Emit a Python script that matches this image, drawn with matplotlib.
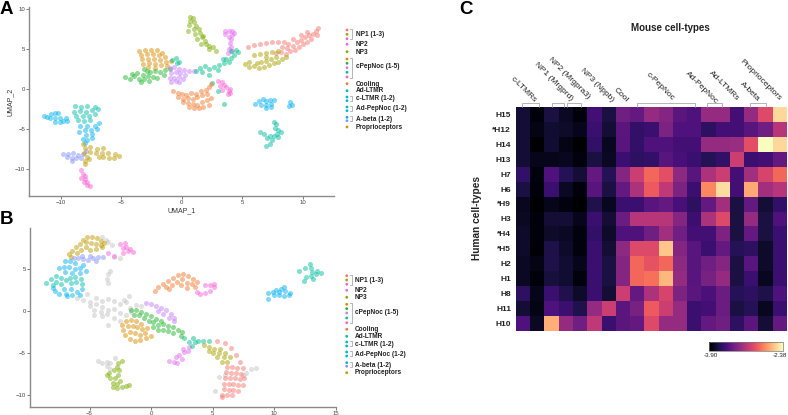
import numpy as np
import matplotlib
matplotlib.use("Agg")
import matplotlib.pyplot as plt

plt.rcParams['font.family'] = ['Liberation Sans', 'DejaVu Sans']

W, H = 788, 415

# cluster colours
c_np1a = '#F8766D'
c_np1b = '#ABA300'
c_np1c = '#FB61D7'
c_np2 = '#E76BF3'
c_np3 = '#7CAE00'
c_pep1 = '#DE8C00'
c_pep2 = '#1DB82B'
c_pep3 = '#C77CFF'
c_pep4 = '#00C08B'
c_pep5 = '#FF62BC'
c_cool = '#F37B2F'
c_adl = '#00BFA0'
c_cl1 = '#00BFAF'
c_cl2 = '#00B0F6'
c_adp1 = '#00C19A'
c_adp2 = '#00B8E7'
c_ab1 = '#00B4F0'
c_ab2 = '#8494FF'
c_prop = '#C09B00'
c_grey = '#C4C4C4'

# ---- panel A, UMAP coords
a_np1a = [(5.5,5.2),(6,5.5),(6.5,5.6),(7,5.8),(7.5,5.9),(8,5.9),(8.5,5.9),(8.2,4.6),(8.6,4.4),(8.7,5.1),(9,4.7),(9.2,5.4),(9.4,4.9),(9.5,5.9),(9.7,5.3),(9.9,6.1),(10,5.6),(10.2,6.5),(10.4,5.9),(10.5,6.8),(10.7,6.3),(10.9,6.9),(11.1,7.2),(11.3,7.6),(11.2,6.8),(9.2,6.2),(8.8,5.6),(7.8,4.5),(8.3,5.2),(9.9,6.8),(10.4,7.1)]
a_np1b = [(5.2,3.1),(5.6,2.7),(6,2.9),(6.4,2.6),(6.8,2.8),(7.2,3.0),(7.6,3.2),(8,3.4),(8.3,3.7),(8.6,4.0),(6.6,3.4),(7,3.5),(7.4,3.8),(7.8,4),(6,4.3),(6.5,4.4),(7,4.5),(7.5,4.6),(8,4.8),(5.6,3.4),(6.2,3.3),(7,4)]
a_np1c = [(3,1),(3.3,.9),(3.5,.5),(3.7,.2),(3.9,-.2),(4,-.5),(3.8,-.6),(3.3,-.1),(3.2,.4),(4.0,.0),(-8.2,-10.7),(-8.0,-10.9),(-8.3,-11.2),(-8,-11.3),(-8.1,-11.7),(-7.8,-11.6),(-7.8,-12),(-7.6,-12.2),(-8.3,-10.2)]
a_np2 = [(3.6,7.2),(3.9,7.3),(4.2,7.3),(4.2,6.8),(3.9,6.5),(4.1,6.2),(4.0,5.7),(4.1,5.3),(3.9,5.0),(3.8,4.5),(4.2,4.8),(3.6,6.9),(4.3,7.0)]
a_np3 = [(0.7,9),(.9,8.9),(.7,8.5),(1,8.4),(.6,8),(1.2,7.9),(.5,7.3),(1,7.5),(1.4,7.5),(1.5,7),(1.1,6.9),(1.7,6.5),(1.3,6.2),(1.9,6),(2,5.6),(1.6,5.6),(2.3,5.4),(2.6,5.2),(2.8,4.7),(2.3,5),(1.8,6.6)]
a_pep1 = [(-3.5,4.8),(-3,4.9),(-2.5,4.9),(-2,4.9),(-1.6,4.5),(-3.4,4.3),(-2.9,4.4),(-2.4,4.4),(-1.9,4.2),(-1.4,4),(-3.3,3.7),(-2.8,3.8),(-2.3,3.7),(-1.8,3.6),(-1.3,3.4),(-.9,3.5),(-3.2,3.1),(-2.7,3.2),(-2.2,3.1),(-1.7,3),(-1.2,2.9),(-2.8,2.7),(-2.2,2.6)]
a_pep2 = [(-4.7,1.5),(-4.3,1.3),(-3.9,1.6),(-3.5,1.3),(-3.1,1.2),(-2.7,1.0),(-4.1,1.9),(-3.7,2.0),(-3.2,1.8),(-2.8,1.6),(-2.4,1.5),(-2,1.4),(-3.4,.9),(-2.6,2.1),(-2.2,2.3),(-1.8,2.1),(-1.4,2.4),(-1,2.5),(-1.5,1.7),(-2.9,2.3),(-3.1,2.5)]
a_pep3 = [(-1,2.6),(-.6,2.7),(-.2,2.5),(.2,2.4),(.6,2.2),(1,2.2),(-.9,2),(-.5,2.1),(-.1,2),(.3,1.8),(-1,1.4),(-.6,1.4),(-.2,1.5),(-.9,.9),(-.5,1),(.1,1.2),(-.2,.9)]
a_pep4 = [(-.8,3.6),(-.5,3.9),(-.4,3.2),(-.2,3.4),(1.5,2.6),(1.9,2.9),(2.3,2.5),(2.7,2.7),(3.1,3),(3.5,3.2),(3.7,3.7),(3.9,3.4),(4.1,3.9),(4.3,4.3),(4.5,4.9),(4.7,4.6),(1.2,2.2),(2.3,1.7),(2.5,.8),(3,-.2),(3.5,-1.9),(1.7,2.1),(3.4,3.7),(4.1,4.7),(3,2.4)]
a_cool = [(-.7,-.2),(-.3,-.5),(0,-.6),(.4,-.7),(.8,-.5),(1.2,-.6),(1.6,-.3),(2,-.1),(2.3,.3),(2.4,.6),(-.3,-1),(.1,-1.2),(.5,-1.1),(.9,-1.2),(1.3,-1),(1.7,-.8),(2.1,-.6),(.1,-1.7),(.5,-1.8),(.9,-1.9),(1.3,-2),(1.7,-1.7),(2.1,-1.4),(2.4,-1.1),(.6,-2.3),(1,-2.4),(1.4,-2.4),(1.8,-2.3),(2.3,-2)]
a_adl = [(6.5,-5.4),(6.8,-5.7),(7.1,-6.2),(7,-7.2),(7.3,-6.9),(7.5,-6.4),(7.6,-5.9),(7.9,-5.7),(8,-5.2),(7.7,-4.9),(7.8,-4.4),(7.6,-4.1),(8.2,-5.4),(7.3,-5.9),(8,-6)]
a_cl1 = [(-8.8,-2.2),(-8.3,-2.3),(-7.8,-2.2),(-7.2,-2.3),(-6.9,-2.5),(-8.9,-2.9),(-8.4,-2.8),(-7.9,-2.9),(-7.4,-2.7),(-8.7,-3.4),(-8.2,-3.4),(-7.7,-3.4),(-7.2,-3.2),(-8.6,-3.9),(-8.1,-4),(-7.6,-3.9)]
a_cl2 = [(-8.4,-4.6),(-7.8,-4.7),(-7.2,-4.6),(-6.8,-4.3),(-8,-5.2),(-7.5,-5.2),(-7,-5),(-8.5,-5.4),(-7.9,-5.8),(-7.4,-5.7),(-8.2,-6.3),(-7.8,-6.4),(-7.4,-6.2),(-8,-6.8)]
a_ab1 = [(-11.4,-3.4),(-11.1,-3.5),(-10.8,-3.1),(-10.5,-3.0),(-10.2,-3.0),(-10.9,-3.7),(-10.5,-3.6),(-10.1,-3.6),(-10.5,-4.1),(-10.1,-4.2),(-9.8,-4),(-9.5,-4.0),(-9.6,-3.6)]
a_adp = [(6.1,-1.9),(6.4,-1.5),(6.7,-1.3),(7,-1.5),(7.3,-1.4),(6.6,-2),(7,-2),(7.4,-1.9),(7.4,-2.3),(7,-2.4),(9,-1.7),(9.1,-2),(8.9,-2.2),(7.6,-1.4)]
a_ab2 = [(-9.8,-8.1),(-9.4,-8.1),(-9,-8),(-8.6,-8.3),(-8.2,-8.2),(-7.9,-7.8),(-9.5,-8.5),(-9.1,-8.7),(-8.7,-8.7),(-9.1,-9),(-8.3,-8.6)]
a_prop = [(-8.2,-6.9),(-8,-7.4),(-7.6,-7.3),(-7,-7.5),(-6.5,-7.4),(-8.1,-8),(-7.6,-7.9),(-7.1,-8),(-6.6,-8),(-6.1,-8),(-5.5,-8.2),(-5.2,-8.4),(-6,-8.6),(-6.5,-8.5),(-5.6,-8.6),(-7.8,-8.5),(-8,-9),(-8,-9.4),(-7.7,-8.8),(-6.8,-8.5)]

# ---- panel B
b_grey = [(-6,1.6),(-5.5,1.3),(-5,1.1),(-4.5,.9),(-4,.5),(-3.5,.2),(-5,.6),(-4.6,.2),(-4.1,-.1),(-3.6,-.3),(-3,1.2),(-2.5,.9),(-2,1.1),(-1.8,1.8),(-2.2,1.4),(-3,.3),(-2.5,-.2),(-2,-.5),(-1.6,-.1),(-3,-.8),(-2.5,-1.1),(-4,-.6),(-4.6,-.4),(-3.5,-1.6),(-1.7,.4),(-1.2,.8),(-.8,.6),(-3.3,4.8),(-3.5,4.4),(-3.6,3.9),(-3.5,3.4),(-4.5,1.6),(-5.2,2),(-3.5,1.5),(-4,1.2),(-4.3,-5.9),(-4,-6.2),(-3.6,-6.5),(-3.3,-6.9),(-3.6,-6),(-3.3,-6.1),(-2.9,-5.6),(5.5,-7.8),(6,-7.6),(7.7,-7.3),(8.1,-6.9),(8.5,-6.7),(7.5,-7.6),(5.2,-9.5),(-4.0,8.8),(-3.7,8.5),(-3.5,8.2),(-3.2,7.9),(-3,6.5),(-2.5,6.3)]
b_prop = [(-6.7,6.8),(-6.4,7.2),(-6.5,6.5),(-6.1,7.6),(-5.8,8),(-5.5,8.5),(-5.2,8.9),(-4.8,8.8),(-4.4,8.7),(-4.1,8.4),(-3.8,8.1),(-5.7,7.3),(-5.3,7.7),(-4.9,8.1),(-4.5,8),(-4,7.6),(-5,7.3),(-4.5,7.4),(-6,6.9),(-5.3,8.2),(-4.1,7.9)]
b_ab2 = [(-6.3,6.4),(-5.9,6.3),(-5.5,6.2),(-5.1,6.1),(-4.7,6.3),(-4.3,6.5),(-3.9,6.5),(-5.6,6.6),(-5,6.6),(-4.5,6.0)]
b_np1c = [(-2.5,8),(-2.1,8.1),(-2,7.7),(-1.9,7.2),(-1.5,7),(-2.3,7.5),(-1.7,7.4),(-2.3,6.9),(-3,6.6),(-3.5,6.9),(3.7,2.3),(4,2.1),(4.4,2.2),(4.8,2.4),(5.1,2.9),(4.8,3.1),(4.4,3.1),(5.1,3.2)]
b_cl2 = [(-7,6),(-6.6,6),(-6.2,5.7),(-7.5,5.1),(-7.1,5.3),(-6.7,5.3),(-6.2,5),(-5.8,5.1),(-5.5,5.5),(-5.3,4.8),(-5.8,4.5),(-6.4,4.5),(-7,4.7)]
b_cl1 = [(-8.5,3.4),(-8.1,3.9),(-7.7,4.2),(-7.7,3.5),(-8,3.1),(-7.3,4),(-7.3,3.2),(-6.9,3.7),(-6.5,3.4),(-6.1,3.5),(-5.7,3.8),(-5.6,3.2),(-6.6,4),(-6.2,4.1)]
b_ab1 = [(-8,2.8),(-7.8,2.4),(-7.5,2.1),(-7.1,2.6),(-6.9,2.1),(-6.5,2.6),(-6.4,1.9),(-6,2.3),(-5.8,1.9),(-5.6,2.7),(-6.8,1.8)]
b_cool = [(.3,2.4),(.6,2.9),(1,3.2),(1.4,3.6),(1.8,4),(2.2,4.3),(2.6,4.4),(3,4.2),(3.4,3.9),(3.7,3.5),(1.2,2.9),(1.7,3.1),(2.1,3.5),(2.5,3.8),(2.9,3.4),(3.3,3.2),(3.6,2.9),(2.4,3.1),(2.9,2.8),(1.5,2.6)]
b_np3 = [(-2.4,-5.9),(-2.7,-6.1),(-2.8,-6.6),(-3,-7),(-3.4,-7.3),(-3.6,-7.6),(-2.6,-7),(-2.7,-7.6),(-3.3,-8),(-3.1,-8.5),(-3.1,-9),(-2.8,-9.1),(-2.4,-9),(-2,-8.9),(-1.8,-8.8),(-2.5,-8.3),(-2.8,-8.7),(-2.9,-8)]
b_np2 = [(1.5,-5.9),(1.9,-6),(2.3,-5.2),(2.7,-4.8),(3.1,-4.2),(2.0,-5.4),(2.5,-5.7),(2.6,-4.5),(3,-4.7),(2.1,-6.2)]
b_pep4 = [(3.4,-3.2),(3.1,-3.6),(3.3,-4.1),(3.6,-3.7),(3.8,-3.5),(2.7,-3.2),(4.2,-3.5),(4.7,-3.5)]
b_pep3 = [(-.4,1),(0,.9),(.4,.6),(.8,.4),(1.2,.1),(1.6,-.3),(1.9,-.8),(.6,0),(1,-.3),(1.5,-.8),(1.9,-1.1)]
b_pep2 = [(-1.6,.2),(-1.2,.1),(-.8,-.1),(-.4,-.3),(0,-.6),(.4,-.9),(.8,-1.1),(-1.4,-.4),(-1,-.5),(-.6,-.8),(-.2,-1.1),(.2,-1.3),(.6,-1.6),(1,-1.5),(1.4,-1.7),(1.8,-1.9),(2.2,-2.2),(2.5,-2.5),(.2,-1.9),(.6,-2.2),(1,-2.2),(1.4,-2.4),(1.8,-2.6),(2.4,-2.9)]
b_pep1 = [(-2.4,-1.6),(-2,-1.2),(-1.6,-1),(-1.2,-1.2),(-.8,-1.5),(-2.3,-2.2),(-1.9,-1.8),(-1.5,-1.8),(-1.1,-1.9),(-.7,-2.1),(-.3,-2),(-2.1,-2.8),(-1.7,-2.5),(-1.3,-2.6),(-.9,-2.8),(-.5,-2.6),(-1.7,-3.3),(-1.3,-3.5),(-.9,-3.4),(0,-2.9),(-.4,-3.2)]
b_np1b = [(4.3,-4),(4.7,-4.2),(5.1,-4.5),(5.5,-5),(5.9,-5.5),(6.2,-6),(5,-5),(5.4,-5.5),(5.8,-6),(5.6,-4.5),(6,-5),(4.7,-4.7),(6.4,-5.4)]
b_np1a = [(5.4,-3.5),(6,-3.8),(6.5,-4.4),(6.9,-5.2),(7.2,-6),(7.5,-6.8),(6.2,-6.6),(6.6,-6.6),(7,-6.7),(6.1,-7.2),(6.5,-7.3),(6.9,-7.4),(7.3,-7.5),(6,-7.9),(6.4,-8),(6.8,-8),(7.2,-8.1),(7.6,-8),(5.9,-8.6),(6.3,-8.7),(6.7,-8.7),(7.1,-8.8),(7.5,-8.8),(5.9,-9.3),(6.3,-9.4),(6.7,-9.4),(7.1,-9.5),(5.8,-10),(6.2,-10),(6.6,-10),(5.8,-10.2)]
b_adp = [(9.5,2.2),(9.9,2.3),(10.2,2.5),(10.6,2.6),(10.9,2.4),(11.3,2.2),(10,1.9),(10.4,1.9),(10.8,1.8),(10.4,2.3),(9.5,1.5),(10.8,2.9),(11.2,1.9)]
b_adl = [(12,4.8),(12.5,5.2),(12.9,5.6),(13,5.2),(13.1,4.7),(12.6,4.1),(13,4.2),(13.4,4.4),(13.8,4.5),(13.2,3.9),(12.4,3.6),(13.5,4.8)]

# ---- panel C
mouse_types = ['c-LTMRs', 'NP1 (Mrgprd)', 'NP2 (Mrgpra3)', 'NP3 (Nppb)', 'Cool', 'c-PepNoc',
               'Ad-PepNoc', 'Ad-LTMRs', 'A-beta', 'Proprioceptors']
human_types = ['H15', '*H12', 'H14', 'H13', 'H7', 'H6', '*H9', 'H3', '*H4', '*H5', 'H2', 'H1', 'H8', 'H11', 'H10']
heat_min, heat_max = -3.90, -2.38
# colour position 0-1 between heat_min and heat_max
heat = np.array([
    [.10,.02,.12,.07,.02,.22,.12,.33,.30,.42,.38,.28,.25,.42,.42,.22,.42,.60,.92],
    [.10,.04,.09,.08,.05,.20,.10,.28,.18,.20,.36,.25,.25,.17,.22,.22,.27,.33,.50],
    [.10,.00,.09,.04,.00,.18,.06,.27,.18,.25,.25,.22,.22,.42,.42,.43,.62,1.0,.92],
    [.10,.05,.05,.06,.03,.12,.07,.20,.17,.18,.27,.23,.20,.15,.18,.55,.20,.22,.30],
    [.18,.03,.25,.15,.10,.30,.15,.38,.55,.68,.62,.40,.27,.48,.55,.22,.45,.58,.68],
    [.12,.02,.20,.07,.02,.27,.12,.30,.48,.65,.52,.36,.20,.75,.93,.22,.82,.45,.50],
    [.06,.00,.05,.03,.00,.14,.06,.20,.20,.27,.30,.23,.17,.30,.45,.12,.30,.10,.18],
    [.07,.02,.10,.10,.05,.20,.10,.32,.50,.50,.50,.38,.20,.48,.60,.12,.42,.12,.25],
    [.08,.02,.08,.07,.03,.18,.08,.25,.25,.33,.45,.33,.22,.22,.36,.12,.30,.12,.20],
    [.08,.01,.13,.08,.03,.20,.10,.40,.60,.60,.88,.38,.27,.20,.30,.15,.17,.08,.20],
    [.07,.04,.13,.09,.05,.20,.12,.38,.68,.63,.68,.40,.27,.33,.38,.12,.27,.08,.20],
    [.07,.02,.11,.09,.03,.20,.12,.38,.68,.70,.85,.42,.27,.35,.42,.12,.20,.06,.20],
    [.17,.05,.20,.14,.08,.20,.10,.55,.30,.48,.58,.36,.28,.24,.32,.15,.17,.13,.25],
    [.10,.04,.25,.20,.14,.42,.55,.28,.35,.65,.55,.42,.20,.22,.32,.12,.15,.06,.20],
    [.25,.07,.83,.42,.33,.52,.20,.28,.30,.60,.42,.42,.20,.30,.33,.17,.28,.10,.30],
])
heat = heat_min + heat * (heat_max - heat_min)

# legend text
legend_labels = ['NP1 (1-3)', 'NP2', 'NP3', 'cPepNoc (1-5)', 'Cooling', 'Ad-LTMR', 'c-LTMR (1-2)',
                 'Ad-PepNoc (1-2)', 'A-beta (1-2)', 'Proprioceptors']
legend_cols = [c_np1a, c_np1b, c_np1c, c_np2, c_np3, c_pep1, c_pep2, c_pep3, c_pep4, c_pep5,
               c_cool, c_adl, c_cl1, c_cl2, c_adp1, c_adp2, c_ab1, c_ab2, c_prop]


def px_axes(left, right, top, bottom):
    return fig.add_axes([left / W, 1 - bottom / H, (right - left) / W, (bottom - top) / H])


def draw_umap(ax, clusters):
    for pts, col in clusters:
        arr = np.array(pts)
        ax.scatter(arr[:, 0], arr[:, 1], s=13, c=col, alpha=0.5, linewidths=0)
    for s in ['top', 'right']:
        ax.spines[s].set_visible(False)
    for s in ['left', 'bottom']:
        ax.spines[s].set_color('#8a8a8a')
        ax.spines[s].set_linewidth(1.0)
    ax.tick_params(labelsize=4.3, length=2, width=0.6, color='#666666', labelcolor='#444444', pad=1)


def draw_legend(dot_x, dot_y, text_x, text_y, brackets):
    over.scatter([dot_x] * len(dot_y), dot_y, s=4, c=legend_cols, linewidths=0)
    for lab, y in zip(legend_labels, text_y):
        over.text(text_x, y, lab, fontsize=4.7, fontweight='bold', va='center', ha='left', color='#222222')
    for y0, y1 in brackets:
        over.plot([dot_x + 3, dot_x + 5.5, dot_x + 5.5, dot_x + 3], [y0, y0, y1, y1], color='#999999', lw=0.5)


fig = plt.figure(figsize=(W / 100, H / 100), dpi=100)

# overlay in pixel coords for legends, letters and brackets
over = fig.add_axes([0, 0, 1, 1], zorder=5)
over.set_xlim(0, W)
over.set_ylim(H, 0)
over.axis('off')

# A
ax_a = px_axes(29.3, 334, 7, 196)
draw_umap(ax_a, [(a_np1a, c_np1a), (a_np1b, c_np1b), (a_np1c, c_np1c), (a_np2, c_np2), (a_np3, c_np3),
                 (a_pep1, c_pep1), (a_pep2, c_pep2), (a_pep3, c_pep3), (a_pep4, c_pep4), (a_cool, c_cool),
                 (a_adl, c_adl), (a_cl1, c_cl1), (a_cl2, c_cl2), (a_ab1, c_ab1), (a_adp, c_cl2),
                 (a_ab2, c_ab2), (a_prop, c_prop)])
ax_a.set_xlim(-12.6, 12.6)
ax_a.set_ylim(-13.4, 10.25)
ax_a.set_xticks([-10, -5, 0, 5, 10])
ax_a.set_yticks([-10, -5, 0, 5, 10])
ax_a.set_xlabel('UMAP_1', fontsize=5, color='#333333', labelpad=1.5)
ax_a.set_ylabel('UMAP_2', fontsize=5, color='#333333', labelpad=1)

# B
ax_b = px_axes(30, 336, 227.7, 406.7)
draw_umap(ax_b, [(b_grey, c_grey), (b_prop, c_prop), (b_ab2, c_ab2), (b_np1c, c_np1c), (b_cl2, c_cl2),
                 (b_cl1, c_cl1), (b_ab1, c_ab1), (b_cool, c_cool), (b_np3, c_np3), (b_np2, c_np2),
                 (b_pep4, c_pep4), (b_pep3, c_pep3), (b_pep2, c_pep2), (b_pep1, c_pep1), (b_np1b, c_np1b),
                 (b_np1a, c_np1a), (b_adp, c_cl2), (b_adl, c_adl)])
ax_b.set_xlim(-9.84, 15.04)
ax_b.set_ylim(-11.36, 9.95)
ax_b.set_xticks([-5, 0, 5, 10, 15])
ax_b.set_yticks([-10, -5, 0, 5])

draw_legend(347, [30, 34.3, 38.7, 44.3, 51.7, 59, 63.3, 67.7, 72.3, 77, 83.7, 90.7, 97, 100.7, 107, 110.7, 117.3, 120.7, 127],
            355.7, [34.3, 44.3, 52, 67, 84, 90.7, 98.5, 108.7, 119, 127],
            [(29, 39), (58, 78), (96, 101), (106, 111), (116, 121)])
draw_legend(346.7, [275.7, 280, 284.3, 290.3, 297.3, 304.3, 308.7, 313, 318, 322.7, 329.3, 336.3, 342, 346, 352, 356, 362.7, 366.3, 372.7],
            355, [280.3, 290, 297.3, 312.7, 329.3, 336.3, 344, 354, 365, 372.7],
            [(275, 285), (303, 323), (341, 346), (351, 356), (362, 367)])

# C heatmap
ax_c = px_axes(516, 786.7, 107, 330.7)
im = ax_c.imshow(heat, cmap='magma', vmin=heat_min, vmax=heat_max, aspect='auto', interpolation='nearest')
ax_c.set_xticks([])
ax_c.set_yticks(range(len(human_types)))
ax_c.set_yticklabels(human_types, fontsize=6, fontweight='bold', color='#222222')
ax_c.tick_params(axis='y', length=0, pad=3.5)
for s in ax_c.spines.values():
    s.set_visible(False)

cax = px_axes(709.3, 783, 342.3, 351.3)
cb = fig.colorbar(im, cax=cax, orientation='horizontal')
cb.set_ticks([])
cb.outline.set_edgecolor('#777777')
cb.outline.set_linewidth(0.5)
over.text(710.5, 355.5, '%.2f' % heat_min, fontsize=4.5, ha='center', va='center', color='#222222')
over.text(787.5, 355.5, '%.2f' % heat_max, fontsize=4.5, ha='right', va='center', color='#222222')

# column labels, right end of each one
label_x = [535, 572, 589, 613, 627, 673, 717, 738, 759, 780]
label_y = [101, 100, 98, 101, 101, 100, 103, 100, 100, 100]
for lab, x, y in zip(mouse_types, label_x, label_y):
    over.text(x, y, lab, fontsize=6, rotation=-45, rotation_mode='anchor', ha='right', va='center', color='#222222')

# brackets over the column groups
for x0, x1 in [(522, 539), (552, 564), (567, 581), (637, 695), (707, 722), (750, 766)]:
    over.plot([x0, x0, x1, x1], [107, 103, 103, 107], color='#999999', lw=0.5)

over.text(670.7, 28, 'Mouse cell-types', fontsize=7, fontweight='bold', ha='center', va='center', color='#222222')
over.text(477, 218, 'Human cell-types', fontsize=7.3, fontweight='bold', rotation=90, ha='center', va='center', color='#222222')

over.text(0, 9, 'A', fontsize=13.5, fontweight='bold', va='center', ha='left', color='black')
over.text(0, 219, 'B', fontsize=13.5, fontweight='bold', va='center', ha='left', color='black')
over.text(459, 10, 'C', fontsize=13.5, fontweight='bold', va='center', ha='left', color='black')

fig.savefig('out.png', dpi=100)
